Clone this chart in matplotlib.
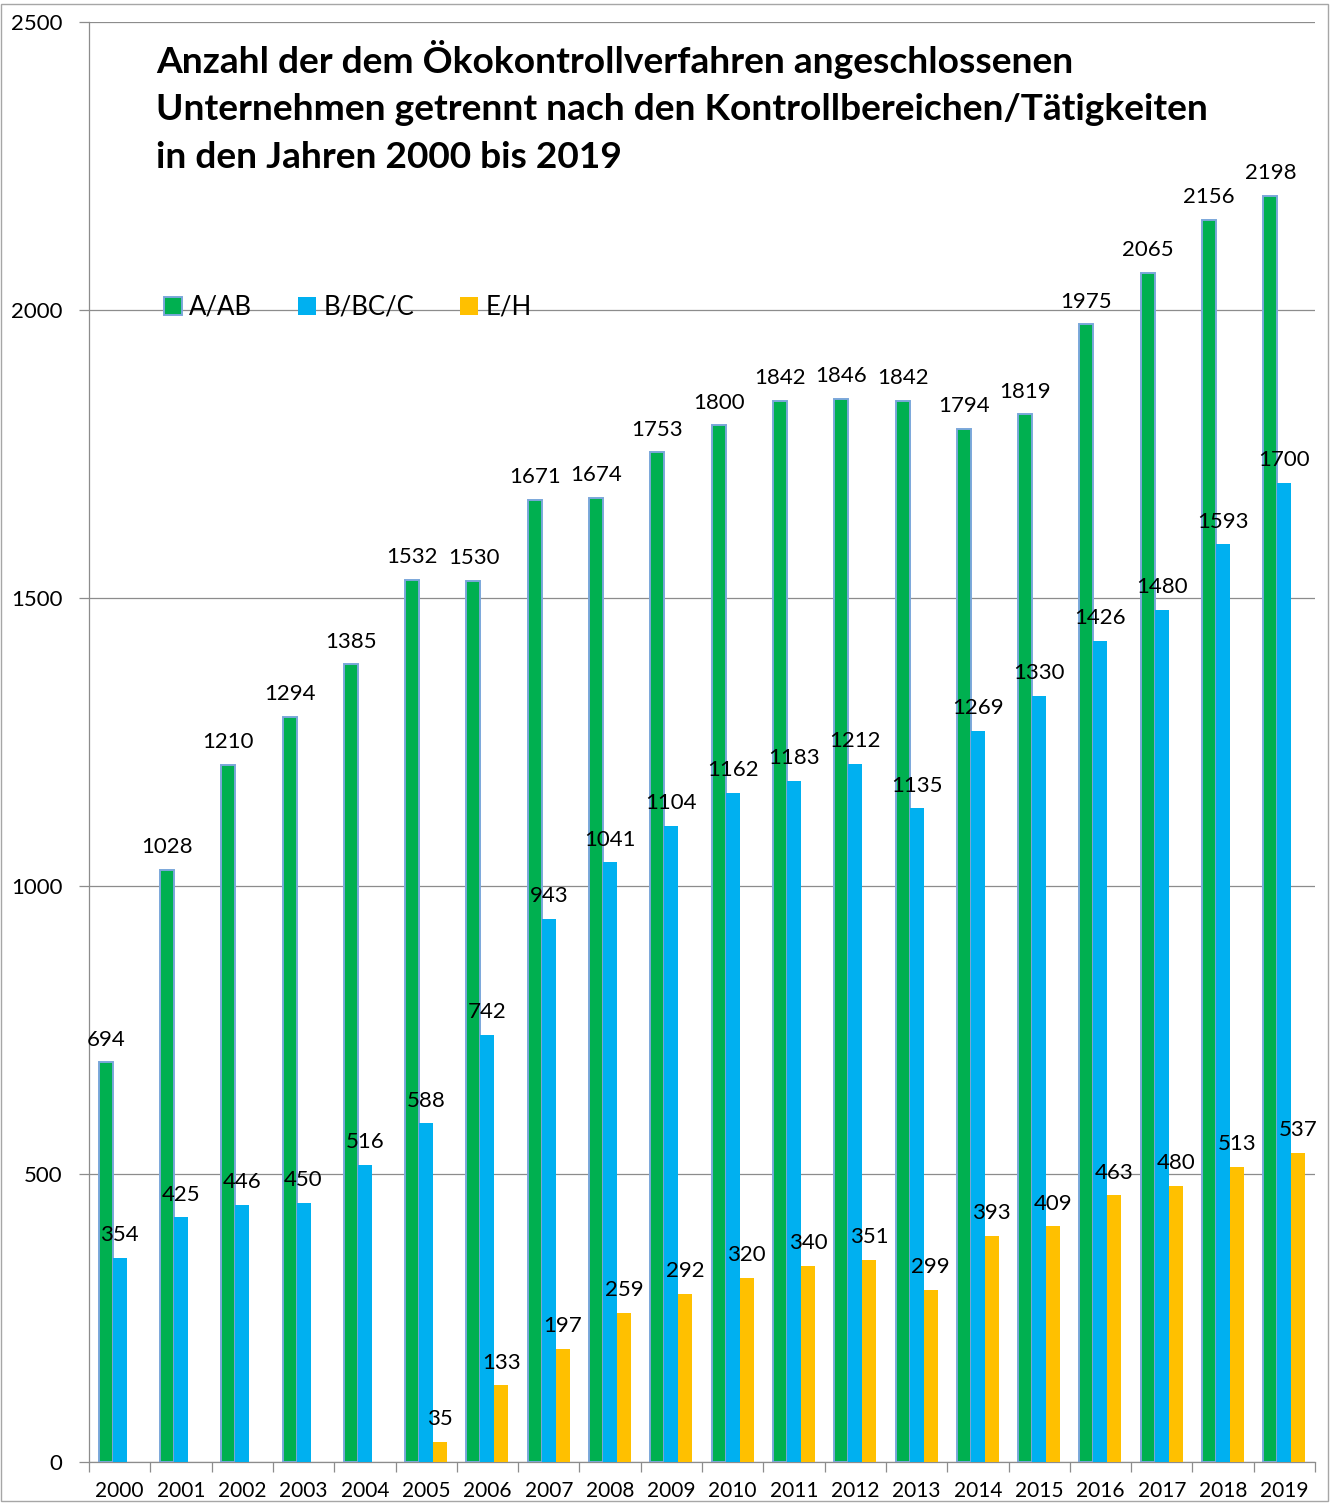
import matplotlib
matplotlib.use("Agg")
import matplotlib.pyplot as plt
import numpy as np
from matplotlib.patches import Rectangle

years = [str(y) for y in range(2000, 2020)]
a_ab = [694, 1028, 1210, 1294, 1385, 1532, 1530, 1671, 1674, 1753,
        1800, 1842, 1846, 1842, 1794, 1819, 1975, 2065, 2156, 2198]
b_bc_c = [354, 425, 446, 450, 516, 588, 742, 943, 1041, 1104,
          1162, 1183, 1212, 1135, 1269, 1330, 1426, 1480, 1593, 1700]
e_h = [None, None, None, None, None, 35, 133, 197, 259, 292,
       320, 340, 351, 299, 393, 409, 463, 480, 513, 537]
series_names = ["A/AB", "B/BC/C", "E/H"]

title = ("Anzahl der dem Ökokontrollverfahren angeschlossenen\n"
         "Unternehmen getrennt nach den Kontrollbereichen/Tätigkeiten\n"
         "in den Jahren 2000 bis 2019")

plt.rcParams["font.family"] = ["Lato", "DejaVu Sans"]

GREEN = "#00B050"
BLUE = "#00B0F0"
ORANGE = "#FFC000"
GRID = "#8C8C8C"

fig = plt.figure(figsize=(13.3, 15.04), dpi=100)
ax = fig.add_axes([89 / 1330, 42 / 1504, 1226 / 1330, 1440 / 1504])

x = np.arange(len(years))
w = 0.228

def draw(vals, offset, color, edge, lw, label):
    xs = [xi + offset for xi, v in zip(x, vals) if v is not None]
    vs = [v for v in vals if v is not None]
    bars = ax.bar(xs, vs, width=w, color=color, edgecolor=edge, linewidth=lw,
                  label=label, zorder=3)
    for xi, v in zip(xs, vs):
        ax.annotate(str(v), (xi, v), xytext=(0, 12), textcoords="offset points",
                    ha="center", va="baseline", fontsize=16, zorder=5)
    return bars

draw(a_ab, -w, GREEN, "#7BA7DA", 1.4, series_names[0])
draw(b_bc_c, 0, BLUE, BLUE, 0, series_names[1])
draw(e_h, w, ORANGE, ORANGE, 0, series_names[2])

ax.set_xlim(-0.5, len(years) - 0.5)
ax.set_ylim(0, 2500)
ax.set_yticks(np.arange(0, 2501, 500))
ax.yaxis.grid(True, color=GRID, linewidth=0.9, zorder=0)
ax.set_axisbelow(True)

ax.set_xticks(x)
ax.set_xticklabels(years)
ax.set_xticks(np.arange(-0.5, len(years)), minor=True)
ax.tick_params(axis="x", which="major", length=0, pad=14, labelsize=15)
ax.tick_params(axis="x", which="minor", length=7, color=GRID, width=0.9)
ax.tick_params(axis="y", length=7, color=GRID, width=0.9, pad=12, labelsize=16)

for s in ["top", "right"]:
    ax.spines[s].set_visible(False)
for s in ["left", "bottom"]:
    ax.spines[s].set_color(GRID)
    ax.spines[s].set_linewidth(0.9)

ax.text(0.055, 0.9875, title, transform=ax.transAxes, ha="left", va="top",
        fontsize=26.7, fontweight="bold", linespacing=1.53)

leg = ax.legend(loc="center left", bbox_to_anchor=(0.0525, 0.802), ncol=3,
                frameon=False, fontsize=18.5, handlelength=0.7, handleheight=0.7,
                handletextpad=0.3, columnspacing=1.78, borderaxespad=0)

# thin frame around the whole chart area
fig.patches.append(Rectangle((1 / 1330, 0.002), 1327 / 1330, 0.9955,
                             transform=fig.transFigure, fill=False,
                             edgecolor="#A6A6A6", linewidth=1))

fig.savefig("out.png", dpi=100)
